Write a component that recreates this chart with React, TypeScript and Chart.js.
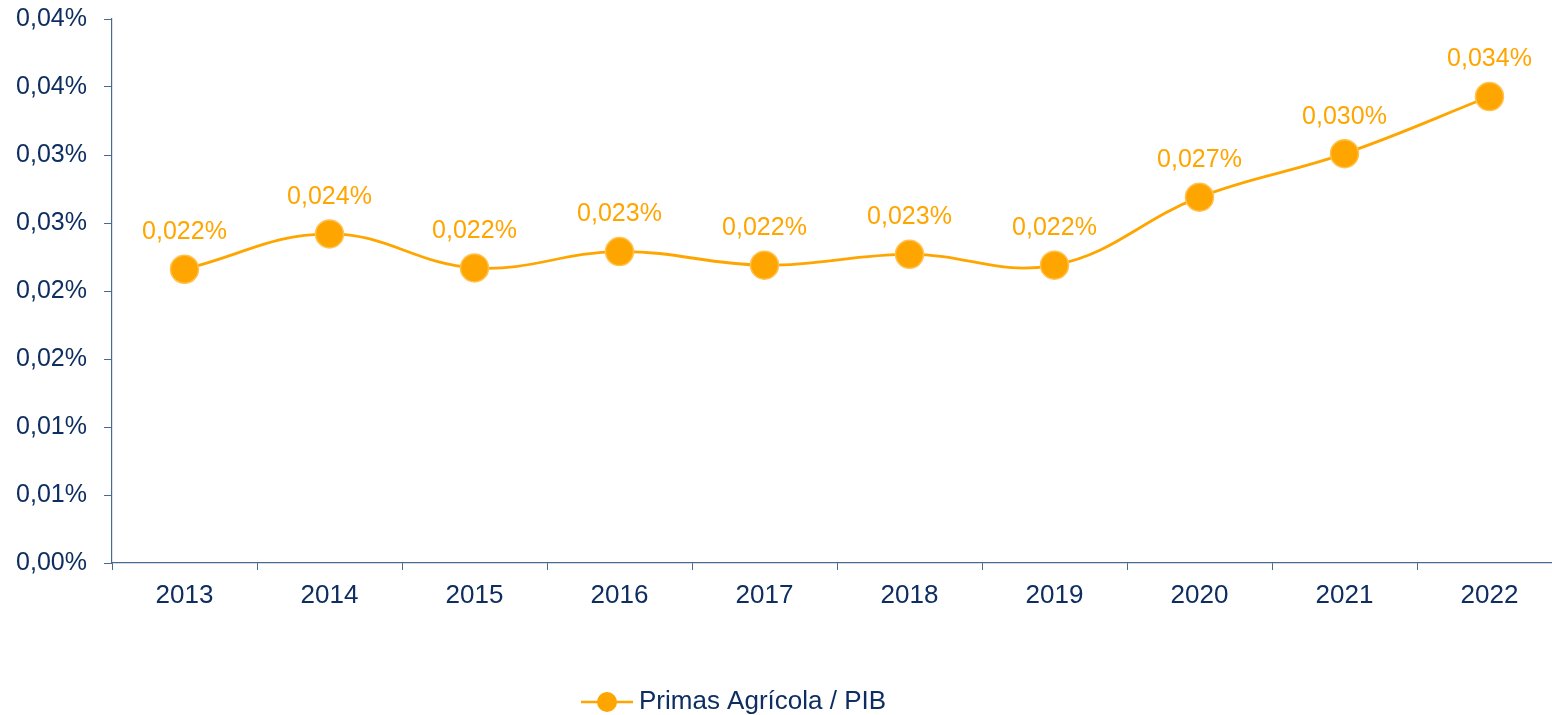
import React, { useEffect, useRef } from "react";
import { Chart, registerables } from "chart.js";

Chart.register(...registerables);

const categories = ["2013", "2014", "2015", "2016", "2017", "2018", "2019", "2020", "2021", "2022"];
const seriesLabel = "Primas Agrícola / PIB";
const seriesValues = [0.0216, 0.0242, 0.0217, 0.0229, 0.0219, 0.0227, 0.0219, 0.0269, 0.0301, 0.0343];
const yMin = 0;
const yMax = 0.04;
const yStep = 0.005;

const ORANGE = "#FFA500";
const NAVY = "#0E2E62";
const AXIS = "#4A6890";
const FONT = "'Liberation Sans', Arial, sans-serif";

const fmtTick = (v: number) => (Math.round(v * 100 + 1e-9) / 100).toFixed(2).replace(".", ",") + "%";
const fmtLabel = (v: number) => v.toFixed(3).replace(".", ",") + "%";

const dataLabelPlugin = {
  id: "dataLabels",
  afterDatasetsDraw(chart: any) {
    const ctx = chart.ctx;
    const meta = chart.getDatasetMeta(0);
    const ds = chart.data.datasets[0];
    ctx.save();
    ctx.font = `25px ${FONT}`;
    ctx.fillStyle = ORANGE;
    ctx.textAlign = "center";
    ctx.textBaseline = "middle";
    meta.data.forEach((pt: any, i: number) => {
      ctx.fillText(fmtLabel(ds.data[i] as number), pt.x, pt.y - 37);
    });
    ctx.restore();
  },
};

const legendPlugin = {
  id: "customLegend",
  afterDraw(chart: any) {
    const ctx = chart.ctx;
    const y = 702;
    const x0 = 581;
    ctx.save();
    ctx.strokeStyle = ORANGE;
    ctx.lineWidth = 2.5;
    ctx.beginPath();
    ctx.moveTo(x0, y);
    ctx.lineTo(x0 + 52, y);
    ctx.stroke();
    ctx.fillStyle = ORANGE;
    ctx.beginPath();
    ctx.arc(x0 + 26, y, 10, 0, Math.PI * 2);
    ctx.fill();
    ctx.font = `26px ${FONT}`;
    ctx.fillStyle = NAVY;
    ctx.textAlign = "left";
    ctx.textBaseline = "middle";
    ctx.fillText(seriesLabel, x0 + 58, y);
    ctx.restore();
  },
};

export default function App() {
  const ref = useRef<HTMLCanvasElement>(null);
  useEffect(() => {
    if (!ref.current) return;
    const chart = new Chart(ref.current, {
      type: "line",
      data: {
        labels: categories,
        datasets: [
          {
            label: seriesLabel,
            data: seriesValues,
            borderColor: ORANGE,
            borderWidth: 2.8,
            backgroundColor: ORANGE,
            pointBackgroundColor: ORANGE,
            pointBorderColor: "#FFC24F",
            pointBorderWidth: 1.5,
            pointRadius: 14,
            tension: 0.4,
            fill: false,
          },
        ],
      },
      options: {
        responsive: false,
        animation: false,
        layout: { autoPadding: false, padding: { left: 0, right: 8, top: 19, bottom: 0 } },
        plugins: { legend: { display: false }, tooltip: { enabled: false } },
        scales: {
          x: {
            offset: true,
            grid: { offset: true, drawOnChartArea: false, drawTicks: true, tickLength: 7, color: AXIS },
            border: { color: AXIS, width: 1.2 },
            ticks: { color: NAVY, font: { family: FONT, size: 26 }, padding: 10, maxRotation: 0 },
            afterFit: (s: any) => {
              s.height = 152;
              s.paddingLeft = 0;
              s.paddingRight = 0;
            },
          },
          y: {
            min: yMin,
            max: yMax,
            grid: { drawOnChartArea: false, drawTicks: true, tickLength: 8, color: AXIS },
            border: { color: AXIS, width: 1.2 },
            ticks: {
              stepSize: yStep,
              color: NAVY,
              font: { family: FONT, size: 25 },
              padding: 17,
              callback: (v: any) => fmtTick(Number(v)),
            },
            afterFit: (s: any) => {
              s.width = 112;
              s.paddingTop = 0;
              s.paddingBottom = 0;
            },
          },
        },
      },
      plugins: [dataLabelPlugin, legendPlugin],
    });
    return () => chart.destroy();
  }, []);
  return (
    <div style={{ position: "fixed", left: 0, top: 0, width: 1552, height: 715, overflow: "hidden", background: "#fff" }}>
      <div style={{ position: "absolute", left: 0, top: 0, width: 1570, height: 715 }}>
        <canvas ref={ref} width={1570} height={715} style={{ display: "block", width: 1570, height: 715 }} />
      </div>
    </div>
  );
}
